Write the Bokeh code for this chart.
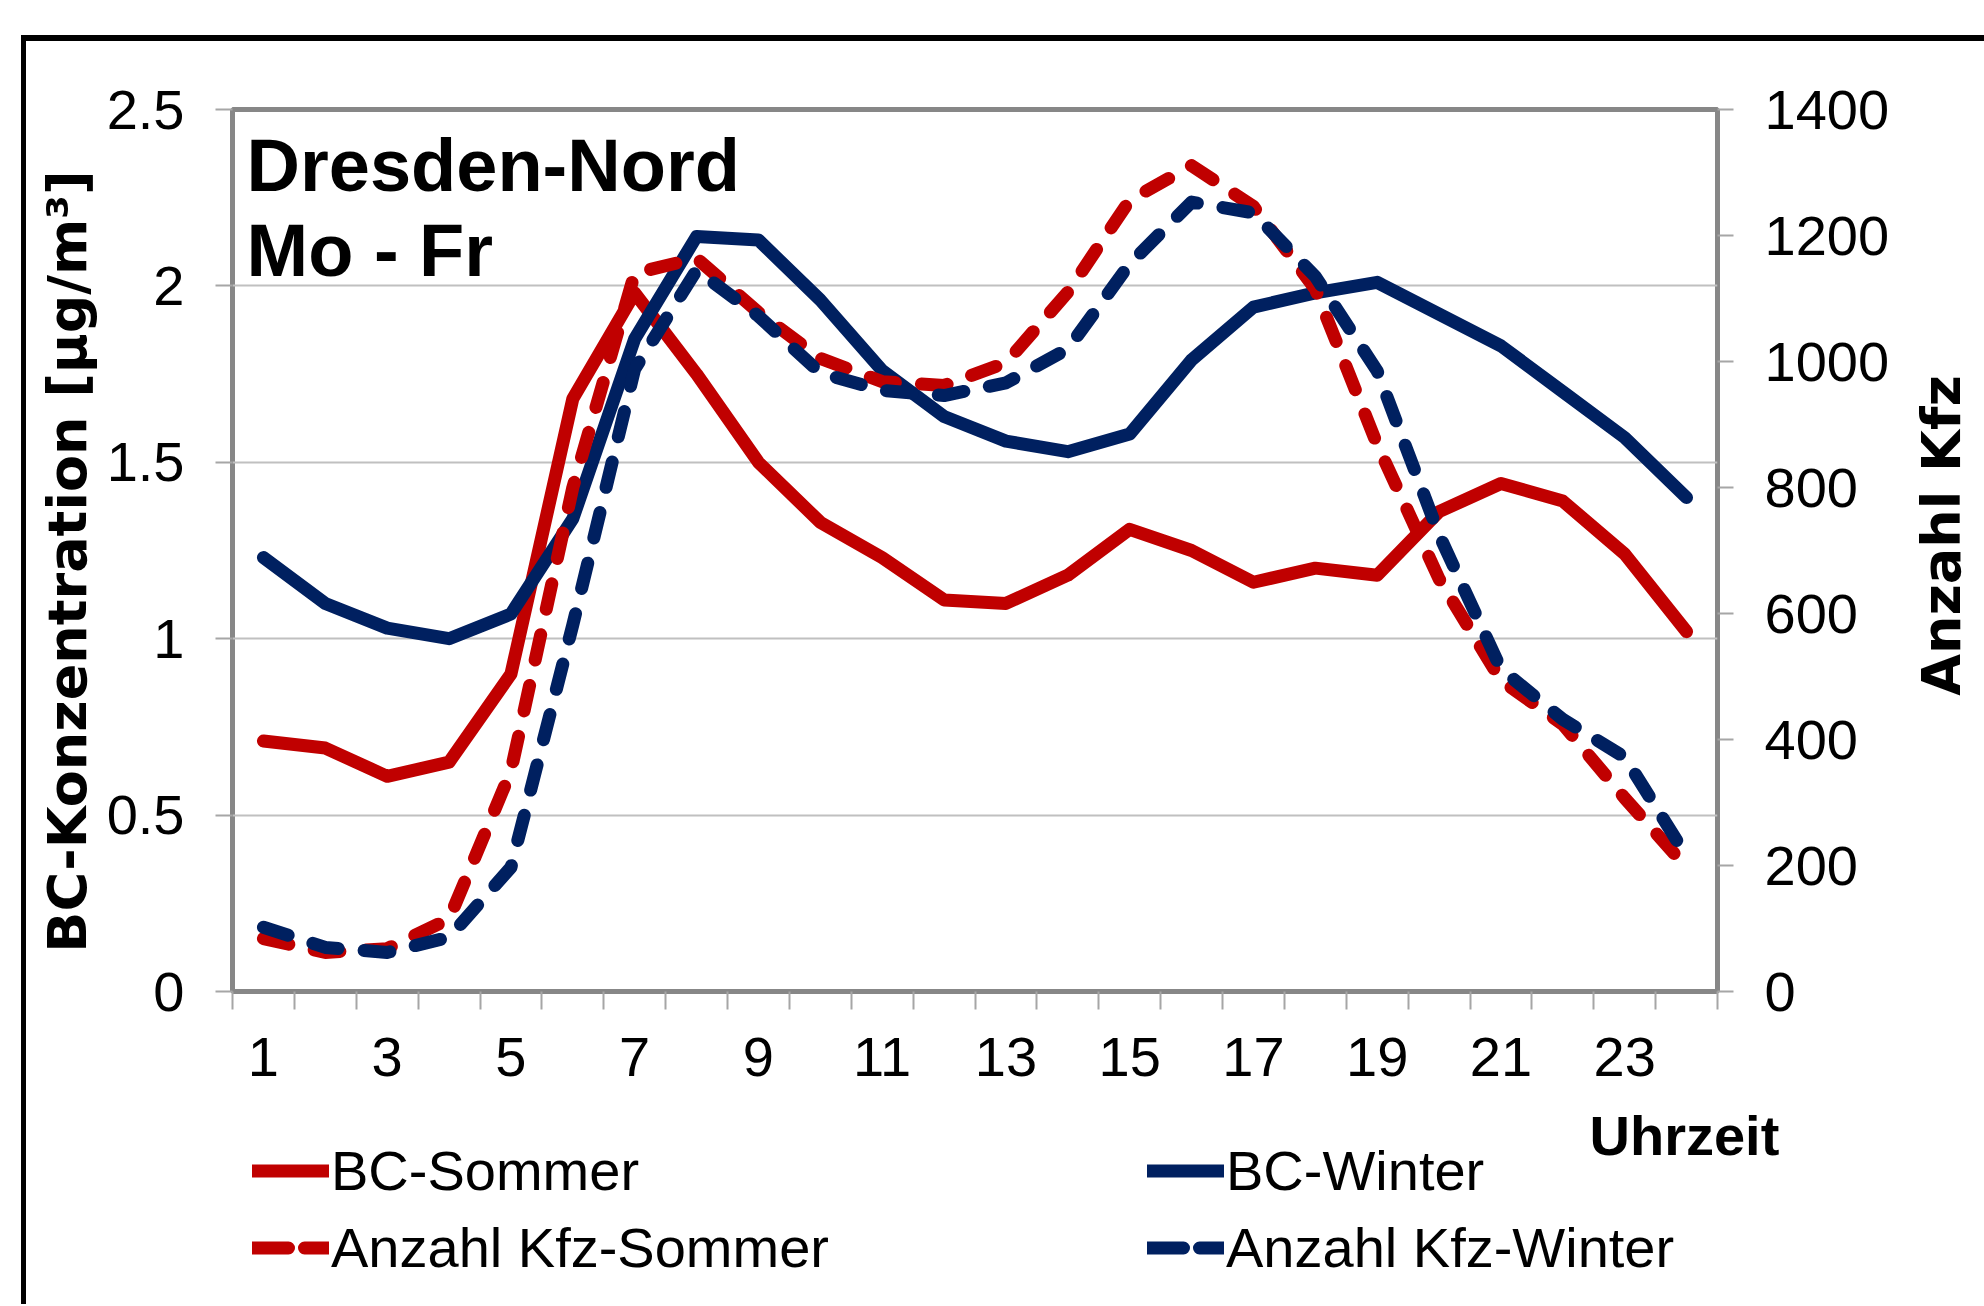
import math
from bokeh.plotting import figure
from bokeh.layouts import column, row
from bokeh.models import (Range1d, LinearAxis, FixedTicker, CustomJSTickFormatter,
                          Label, Legend, LegendItem)
from bokeh.embed import file_html
from bokeh.resources import INLINE

# ---------------- data ----------------
hours = list(range(1, 25))
bc_sommer = [0.71, 0.69, 0.61, 0.65, 0.90, 1.68, 1.98, 1.75, 1.50, 1.33, 1.23, 1.11,
             1.10, 1.18, 1.31, 1.25, 1.16, 1.20, 1.18, 1.36, 1.44, 1.39, 1.24, 1.02]
bc_winter = [1.23, 1.10, 1.03, 1.00, 1.07, 1.34, 1.85, 2.14, 2.13, 1.96, 1.76, 1.63,
             1.56, 1.53, 1.58, 1.79, 1.94, 1.98, 2.01, 1.92, 1.83, 1.70, 1.57, 1.40]
kfz_sommer = [84, 62, 68, 115, 350, 800, 1140, 1164, 1078, 1005, 968, 962,
              998, 1110, 1256, 1311, 1246, 1115, 868, 655, 494, 424, 307, 197]
kfz_winter = [102, 70, 62, 86, 197, 582, 988, 1145, 1072, 982, 954, 946,
              966, 1020, 1155, 1253, 1236, 1135, 985, 725, 512, 432, 372, 215]

x_tick_labels = [1, 3, 5, 7, 9, 11, 13, 15, 17, 19, 21, 23]
left_ticks = [0, 0.5, 1, 1.5, 2, 2.5]
right_ticks = [0, 200, 400, 600, 800, 1000, 1200, 1400]

series_names = ["BC-Sommer", "BC-Winter", "Anzahl Kfz-Sommer", "Anzahl Kfz-Winter"]
title_lines = ["Dresden-Nord", "Mo - Fr"]
y_left_title = "BC-Konzentration [µg/m³]"
y_right_title = "Anzahl Kfz"
x_title = "Uhrzeit"

# ---------------- style / layout (page pixels) ----------------
RED = "#C00000"
NAVY = "#002060"
FRAME = "#878787"
TICK = "#a6a6a6"
GRID = "#c0c0c0"
W = 1984
H1 = 1100            # height of the chart row
H2 = 204             # height of the strip with x title + legend
LSTRIP = 100         # left strip (y title)
RSTRIP = 84          # right strip (right y title)
PW = W - LSTRIP - RSTRIP
FL, FR, FT, FB = 232, 1717, 109, 991   # plot frame in page pixels
X0, X1 = 0.5, 24.5
Y0, Y1 = 0, 2.5
TICK_FONT = "Liberation Sans"
TICK_SIZE = "56px"
TITLE_FONT = "DejaVu Sans"
LW = 13
DASH = "26 26"
LEG_DASH = "36 16"
SH_TOP = "inset 0 35px 0 0 #ffffff, inset 0 41px 0 0 #000000"
SH_CORNER = "inset 21px 35px 0 0 #ffffff, inset 26px 41px 0 0 #000000"
SH_LEFT = "inset 21px 0 0 0 #ffffff, inset 26px 0 0 0 #000000"


def px_to_x(px):
    return X0 + (px - FL) / (FR - FL) * (X1 - X0)


def py_to_y(py):
    return Y0 + (FB - py) / (FB - FT) * (Y1 - Y0)


def blank(width, height, xr, yr, mb_top, mb_bottom, shadow):
    f = figure(width=width, height=height, x_range=xr, y_range=yr,
               output_backend="svg", toolbar_location=None, title=None,
               x_axis_location=None, y_axis_location=None,
               min_border_left=0, min_border_right=0,
               min_border_top=mb_top, min_border_bottom=mb_bottom,
               styles={"box-shadow": shadow})
    f.background_fill_color = None
    f.border_fill_color = None
    f.outline_line_color = None
    f.grid.visible = False
    return f


# ---------------- main chart ----------------
p = figure(width=PW, height=H1, x_range=Range1d(X0, X1), y_range=Range1d(Y0, Y1),
           output_backend="svg", toolbar_location=None, title=None,
           min_border_left=FL - LSTRIP, min_border_right=PW - (FR - LSTRIP),
           min_border_top=FT, min_border_bottom=H1 - FB,
           styles={"box-shadow": SH_TOP})
p.background_fill_color = "white"
p.border_fill_color = None
p.outline_line_color = FRAME
p.outline_line_width = 5

p.extra_y_ranges = {"kfz": Range1d(0, 1400)}

p.xgrid.visible = False
p.ygrid[0].ticker = FixedTicker(ticks=left_ticks)
p.ygrid[0].grid_line_color = GRID
p.ygrid[0].grid_line_width = 2

xa = p.xaxis[0]
xa.ticker = FixedTicker(ticks=x_tick_labels, minor_ticks=[h + 0.5 for h in [0] + hours])
xa.major_tick_out = 0
xa.major_tick_in = 0
xa.minor_tick_out = 18
xa.minor_tick_in = 0
xa.minor_tick_line_color = TICK
xa.minor_tick_line_width = 2
xa.axis_line_color = None
xa.major_label_text_font = TICK_FONT
xa.major_label_text_font_size = TICK_SIZE
xa.major_label_text_color = "black"
xa.major_label_standoff = 28

ya = p.yaxis[0]
ya.ticker = FixedTicker(ticks=left_ticks)
ya.formatter = CustomJSTickFormatter(code="return tick.toString();")
ya.major_tick_out = 17
ya.major_tick_in = 0
ya.minor_tick_out = 0
ya.major_tick_line_color = TICK
ya.major_tick_line_width = 2
ya.axis_line_color = None
ya.major_label_text_font = TICK_FONT
ya.major_label_text_font_size = TICK_SIZE
ya.major_label_text_color = "black"
ya.major_label_standoff = 31

ra = LinearAxis(y_range_name="kfz", ticker=FixedTicker(ticks=right_ticks))
ra.major_tick_out = 16
ra.major_tick_in = 0
ra.minor_tick_out = 0
ra.major_tick_line_color = TICK
ra.major_tick_line_width = 2
ra.axis_line_color = None
ra.major_label_text_font = TICK_FONT
ra.major_label_text_font_size = TICK_SIZE
ra.major_label_text_color = "black"
ra.major_label_standoff = 31
p.add_layout(ra, "right")

line_kw = dict(line_width=LW, line_cap="round", line_join="round")
r1 = p.line(hours, bc_sommer, line_color=RED, **line_kw)
r2 = p.line(hours, bc_winter, line_color=NAVY, **line_kw)
r3 = p.line(hours, kfz_sommer, y_range_name="kfz", line_color=RED, line_dash=DASH, **line_kw)
r4 = p.line(hours, kfz_winter, y_range_name="kfz", line_color=NAVY, line_dash=DASH, **line_kw)

for txt, yc in zip(title_lines, [165, 250]):
    p.add_layout(Label(x=px_to_x(246), y=py_to_y(yc), text=txt,
                       text_font="Liberation Sans", text_font_style="bold",
                       text_font_size="74px", text_align="left", text_baseline="middle",
                       text_color="black"))

# ---------------- left strip: y title ----------------
lstrip = blank(LSTRIP, H1, Range1d(0, LSTRIP), Range1d(FB, FT), FT, H1 - FB, SH_CORNER)
lstrip.add_layout(Label(x=67, y=561, text=y_left_title, angle=math.pi / 2,
                        text_font=TITLE_FONT, text_font_style="bold", text_font_size="54px",
                        text_align="center", text_baseline="middle", text_color="black"))

# ---------------- right strip: right y title ----------------
rstrip = blank(RSTRIP, H1, Range1d(W - RSTRIP, W), Range1d(FB, FT), FT, H1 - FB, SH_TOP)
rstrip.add_layout(Label(x=1941, y=535, text=y_right_title, angle=math.pi / 2,
                        text_font=TITLE_FONT, text_font_style="bold", text_font_size="54px",
                        text_align="center", text_baseline="middle", text_color="black"))

# ---------------- bottom strip: x title + legend ----------------
q = blank(W, H2, Range1d(0, W), Range1d(H1 + H2, H1), 0, 0, SH_LEFT)

# legend proxies: same styling as the chart lines, placed outside the visible range
OFF = [-999, -998]
k1 = q.line(OFF, OFF, line_color=RED, **line_kw)
k2 = q.line(OFF, OFF, line_color=NAVY, **line_kw)
k3 = q.line(OFF, OFF, line_color=RED, line_dash=LEG_DASH, **line_kw)
k4 = q.line(OFF, OFF, line_color=NAVY, line_dash=LEG_DASH, **line_kw)

q.add_layout(Label(x=1589, y=1135, text=x_title, text_font=TICK_FONT,
                   text_font_style="bold", text_font_size=TICK_SIZE,
                   text_align="left", text_baseline="middle", text_color="black"))

ITEM_H = 63
GAP = 12
LEG_H = 2 * ITEM_H + GAP
leg_top = 1173 - ITEM_H / 2


def make_legend(items, x0):
    lg = Legend(items=items, location=(x0, int(round(H1 + H2 - LEG_H - leg_top))))
    lg.orientation = "vertical"
    lg.glyph_width = 77
    lg.glyph_height = ITEM_H
    lg.label_height = ITEM_H
    lg.label_standoff = 2
    lg.spacing = GAP
    lg.padding = 0
    lg.margin = 0
    lg.border_line_color = None
    lg.background_fill_alpha = 0
    lg.label_text_font = TICK_FONT
    lg.label_text_font_size = TICK_SIZE
    lg.label_text_color = "black"
    return lg


q.add_layout(make_legend([LegendItem(label=series_names[0], renderers=[k1]),
                          LegendItem(label=series_names[2], renderers=[k3])], 252))
q.add_layout(make_legend([LegendItem(label=series_names[1], renderers=[k2]),
                          LegendItem(label=series_names[3], renderers=[k4])], 1147))

layout = column(row(lstrip, p, rstrip, spacing=0), q, spacing=0)
open("out.html", "w").write(file_html(layout, INLINE))
